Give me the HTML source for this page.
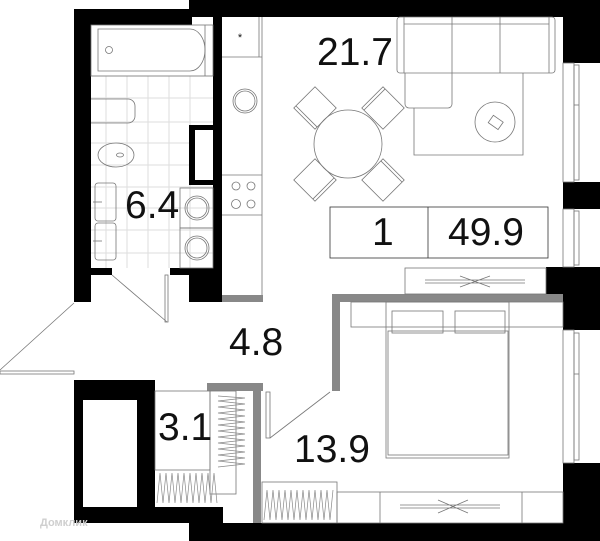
<!DOCTYPE html>
<html><head><meta charset="utf-8"><style>
html,body{margin:0;padding:0;background:#fff;}
svg{display:block;}
text{font-family:"Liberation Sans",sans-serif;fill:#111;}
</style></head><body>
<svg width="600" height="541" viewBox="0 0 600 541" xmlns="http://www.w3.org/2000/svg">
<!-- tiles -->
<g stroke="#ddd" stroke-width="1">
<line x1="106" y1="76" x2="106" y2="268"/><line x1="127" y1="76" x2="127" y2="268"/><line x1="148" y1="76" x2="148" y2="268"/><line x1="169" y1="76" x2="169" y2="268"/><line x1="190" y1="76" x2="190" y2="268"/>
<line x1="91" y1="76" x2="213" y2="76"/><line x1="91" y1="98" x2="213" y2="98"/><line x1="91" y1="122" x2="213" y2="122"/><line x1="91" y1="143" x2="213" y2="143"/><line x1="91" y1="165" x2="213" y2="165"/><line x1="91" y1="187" x2="213" y2="187"/><line x1="91" y1="208" x2="213" y2="208"/><line x1="91" y1="230" x2="213" y2="230"/><line x1="91" y1="253" x2="213" y2="253"/>
</g>
<!-- black walls -->
<g fill="#000">
<rect x="74" y="9" width="118" height="16"/>
<rect x="189" y="0" width="411" height="17"/>
<rect x="74" y="9" width="17" height="293"/>
<rect x="563" y="0" width="37" height="63"/>
<rect x="563" y="182" width="37" height="27"/>
<rect x="546" y="267" width="54" height="27"/>
<rect x="563" y="267" width="37" height="63"/>
<rect x="563" y="463" width="37" height="78"/>
<rect x="213" y="17" width="9" height="258"/>
<rect x="91" y="268" width="21" height="7"/>
<rect x="170" y="268" width="52" height="7"/>
<rect x="189" y="268" width="33" height="34"/>
<rect x="189" y="125" width="24" height="60"/>
<rect x="74" y="380" width="81" height="127"/>
<rect x="74" y="507" width="149" height="16"/>
<rect x="189" y="523" width="411" height="18"/>
</g>
<rect x="195" y="130" width="18" height="50" fill="#fff"/>
<rect x="83" y="400" width="54" height="107" fill="#fff"/>
<!-- gray walls -->
<g fill="#888">
<rect x="222" y="295" width="41" height="7"/>
<rect x="332" y="294" width="231" height="8"/>
<rect x="332" y="294" width="8" height="97"/>
<rect x="207" y="383" width="56" height="8"/>
<rect x="253" y="383" width="8" height="140"/>
</g>
<g fill="none" stroke="#777" stroke-width="0.8">
<!-- windows -->
<rect x="563" y="63" width="11" height="119"/><rect x="574" y="65" width="5" height="115"/><line x1="574" y1="105" x2="579" y2="105"/>
<rect x="563" y="209" width="11" height="58"/><rect x="574" y="211" width="5" height="54"/>
<rect x="563" y="330" width="11" height="133"/><rect x="574" y="333" width="5" height="127"/><line x1="574" y1="374" x2="579" y2="374"/>
<!-- bathtub -->
<rect x="91" y="25" width="122" height="51"/>
<path d="M98 29 H190 A15 21 0 0 1 190 71 H98 Z"/>
<line x1="205" y1="25" x2="205" y2="76"/>
<circle cx="109" cy="50" r="3.5"/>
<!-- toilet tank -->
<path d="M91 99 H128 A7 7 0 0 1 135 106 V116 A7 7 0 0 1 128 123 H91"/>
<ellipse cx="116" cy="155" rx="18" ry="12"/><ellipse cx="120" cy="155" rx="3.5" ry="2"/>
<!-- sinks -->
<rect x="95" y="183" width="21" height="38" rx="3"/><rect x="95" y="223" width="21" height="37" rx="3"/>
<line x1="93" y1="202" x2="102" y2="202"/><line x1="93" y1="241" x2="102" y2="241"/>
<!-- washers -->
<rect x="180" y="188" width="33" height="40"/><rect x="180" y="228" width="33" height="40"/>
<circle cx="197" cy="208" r="12"/><circle cx="197" cy="208" r="10"/><circle cx="197" cy="248" r="12"/><circle cx="197" cy="248" r="10"/>
<!-- bath door -->
<line x1="112" y1="275" x2="167" y2="322"/>
<rect x="165" y="275" width="3" height="47"/>
<!-- kitchen -->
<line x1="262" y1="17" x2="262" y2="295"/>
<line x1="222" y1="57" x2="262" y2="57"/><line x1="259" y1="17" x2="259" y2="57"/>
<line x1="222" y1="175" x2="262" y2="175"/><line x1="222" y1="215" x2="262" y2="215"/>
<circle cx="245" cy="101" r="12"/><circle cx="245" cy="101" r="10"/>
<circle cx="236" cy="186" r="4"/><circle cx="251" cy="186" r="4"/><circle cx="236" cy="204" r="4.5"/><circle cx="251" cy="204" r="4"/>
<!-- sofa -->
<rect x="397" y="17" width="158" height="56" rx="3"/>
<line x1="404" y1="24" x2="549" y2="24"/><line x1="404" y1="17" x2="404" y2="73"/><line x1="549" y1="17" x2="549" y2="73"/>
<line x1="452" y1="17" x2="452" y2="73"/><line x1="500" y1="17" x2="500" y2="73"/>
<path d="M405 73 V104 A4 4 0 0 0 409 108 H448 A4 4 0 0 0 452 104 V73"/>
<path d="M414 108 V155 H523 V73"/>
<circle cx="495" cy="122" r="20"/>
<rect x="490" y="118" width="12" height="9" transform="rotate(35 496 122)"/>
<!-- table -->
<circle cx="348" cy="144" r="34"/>
<g transform="translate(315 108) rotate(45)"><rect x="-15" y="-15" width="30" height="30"/><line x1="-15" y1="12" x2="15" y2="12"/></g>
<g transform="translate(383 108) rotate(135)"><rect x="-15" y="-15" width="30" height="30"/><line x1="-15" y1="12" x2="15" y2="12"/></g>
<g transform="translate(315 180) rotate(-45)"><rect x="-15" y="-15" width="30" height="30"/><line x1="-15" y1="12" x2="15" y2="12"/></g>
<g transform="translate(383 180) rotate(-135)"><rect x="-15" y="-15" width="30" height="30"/><line x1="-15" y1="12" x2="15" y2="12"/></g>
<!-- info box -->
<rect x="330" y="207" width="218" height="51" stroke="#333"/>
<line x1="428" y1="207" x2="428" y2="258" stroke="#333"/>
<!-- wardrobe top -->
<rect x="405" y="268" width="141" height="26"/>
<path d="M425 280 H525 M425 283 H525 M460 276 L490 287 M460 287 L490 276"/>
<!-- entry door -->
<line x1="74" y1="303" x2="0" y2="370"/>
<rect x="0" y="371" width="74" height="3"/>
<!-- bedroom furniture -->
<rect x="351" y="302" width="212" height="25"/>
<rect x="386" y="302" width="123" height="156"/>
<rect x="388" y="331" width="120" height="124"/>
<rect x="392" y="311" width="51" height="22"/><rect x="455" y="311" width="50" height="22"/>
<!-- bedroom door -->
<line x1="270" y1="438" x2="330" y2="392"/>
<rect x="266" y="392" width="4" height="46"/>
<!-- bottom wardrobe -->
<rect x="337" y="492" width="226" height="31"/>
<line x1="380" y1="492" x2="380" y2="523"/><line x1="522" y1="492" x2="522" y2="523"/>
<path d="M400 505 H500 M400 508 H500 M438 500 L468 513 M438 513 L468 500"/>
<rect x="262" y="482" width="75" height="41"/>
<!-- closet -->
<rect x="155" y="391" width="55" height="79"/>
<rect x="210" y="391" width="26" height="103"/>
</g>
<!-- zigzags -->
<g fill="none" stroke="#888" stroke-width="0.7">
<path d="M218 396 L245 398 L218 401 L245 404 L218 407 L245 410 L218 413 L245 416 L218 419 L245 422 L218 425 L245 428 L218 431 L245 434 L218 437 L245 440 L218 443 L245 446 L218 449 L245 452 L218 455 L245 458 L218 461 L245 464 L218 467"/>
<path d="M157 503 L160 473 L163 503 L166 473 L169 503 L172 473 L175 503 L178 473 L181 503 L184 473 L187 503 L190 473 L193 503 L196 473 L199 503 L202 473 L205 503 L208 473 L211 503 L214 473 L217 503"/>
<path d="M264 520 L267 490 L270 520 L273 490 L276 520 L279 490 L282 520 L285 490 L288 520 L291 490 L294 520 L297 490 L300 520 L303 490 L306 520 L309 490 L312 520 L315 490 L318 520 L321 490 L324 520 L327 490 L330 520 L333 490"/>
</g>
<text x="240" y="41" font-size="11" text-anchor="middle" fill="#555">*</text>
<!-- labels -->
<g font-size="39">
<text x="125" y="218">6.4</text>
<text x="317" y="65">21.7</text>
<text x="229" y="355">4.8</text>
<text x="158" y="440">3.1</text>
<text x="294" y="462">13.9</text>
<text x="372" y="245">1</text>
<text x="448" y="245">49.9</text>
</g>
<text x="40" y="526" font-size="11" font-weight="bold" fill="#ccc" style="fill:#cfcfcf">Домклик</text>
</svg>
</body></html>
